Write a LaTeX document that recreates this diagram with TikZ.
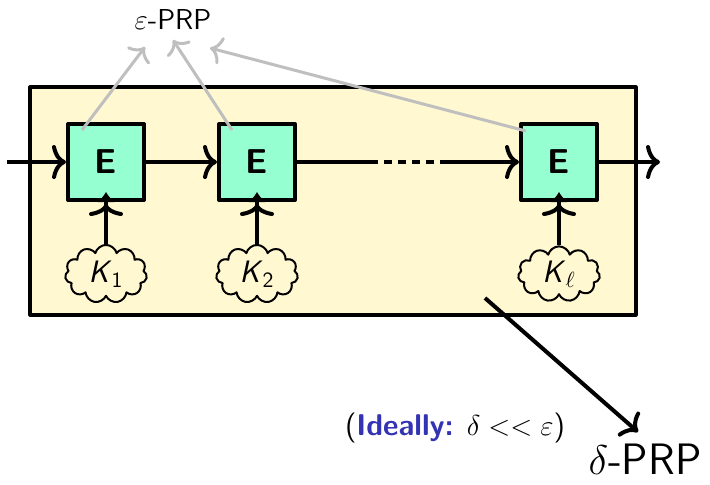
\documentclass[tikz,border=0pt]{standalone}
\renewcommand{\familydefault}{\sfdefault}
\usetikzlibrary{arrows.meta,shapes.symbols}
\definecolor{bgyellow}{RGB}{255,248,208}
\definecolor{boxgreen}{RGB}{150,255,210}
\definecolor{strblue}{RGB}{51,51,179}
\begin{document}
\begin{tikzpicture}[x=0.5pt,y=-0.5pt,line join=round,
    >={Computer Modern Rightarrow[length=7pt,width=17pt]},
    blk/.style={draw,line width=2pt,fill=boxgreen,minimum width=38pt,minimum height=38pt,font=\LARGE\bfseries},
    key/.style={cloud,cloud puffs=11,draw,line width=1pt,fill=bgyellow,minimum width=41pt,minimum height=27pt,inner sep=0pt,font=\fontsize{15.5}{18}\selectfont},
    flow/.style={line width=2pt,->},
    keyin/.style={line width=2pt,shorten >=-5pt,
      -{Computer Modern Rightarrow[length=6pt,width=17pt,sep=1pt]Latex[length=5pt,width=9pt]}},
    prp/.style={gray!50,line width=1.5pt,-{Computer Modern Rightarrow[length=6pt,width=14pt]}}]
  \useasboundingbox (0,0) rectangle (710,484);
  \draw[line width=1.6pt,fill=bgyellow] (30,87) rectangle (636,315);
  % rounds of the cipher
  \node[blk] (e1) at (106,162) {E};
  \node[blk] (e2) at (257,162) {E};
  \node[blk] (e3) at (559,162) {E};
  \node[key] (k1) at (106,274) {\textit{K}\textsubscript{1}};
  \node[key] (k2) at (257,274) {\textit{K}\textsubscript{2}};
  \node[key] (k3) at (559,274) {\textit{K}\textsubscript{$\ell$}};
  \coordinate (in) at (7,162);
  \coordinate (d1) at (370,162);
  \coordinate (d2) at (446,162);
  \coordinate (out) at (660,162);
  \draw[flow] (in) -- (e1);
  \draw[flow] (e1) -- (e2);
  \draw[line width=2pt] (e2) -- (d1);
  \draw[line width=2pt,dash pattern=on 4pt off 3pt] (d1) -- (d2);
  \draw[flow] (d2) -- (e3);
  \draw[flow] (e3) -- (out);
  \foreach \i in {1,2,3}
    \draw[keyin] (k\i) -- (e\i);
  % labels
  \node[font=\Large] (eps) at (173,19) {$\varepsilon$-PRP};
  \coordinate (t1) at (145,47);
  \coordinate (t2) at (173,40);
  \coordinate (t3) at (210,48);
  \draw[prp] ([xshift=8pt,yshift=-4pt]e1.north west) -- (t1);
  \draw[prp] ([xshift=7.5pt,yshift=-4pt]e2.north west) -- (t2);
  \draw[prp] ([xshift=3.5pt,yshift=-4.5pt]e3.north west) -- (t3);
  \coordinate (s) at (485,298);
  \coordinate (t) at (638,432);
  \draw[line width=2pt,-{Computer Modern Rightarrow[length=7pt,width=16pt]}] (s) -- (t);
  \node[font=\fontsize{22}{25}\selectfont,anchor=base,inner sep=0pt] (dprp) at (645,474) {$\delta$-PRP};
  \node[font=\fontsize{15}{18}\selectfont] (ideal) at (455,428) {(\textcolor{strblue}{\textbf{Ideally:}} $\delta << \varepsilon$)};
\end{tikzpicture}
\end{document}
